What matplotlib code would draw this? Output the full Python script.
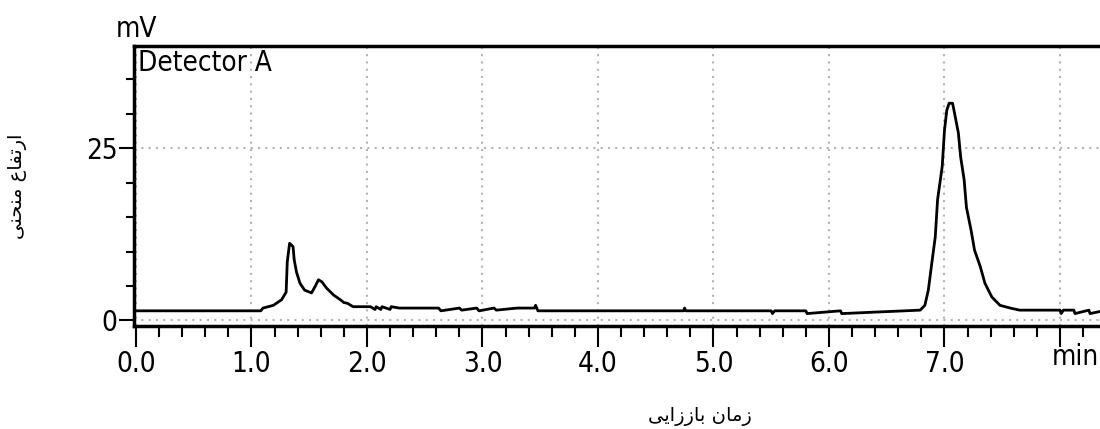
import matplotlib
matplotlib.use("Agg")
import matplotlib.pyplot as plt
from matplotlib import font_manager
from matplotlib.ticker import MultipleLocator

# chromatogram trace (time in min, signal in mV)
time_min = [0.00, 1.08, 1.10, 1.19, 1.26, 1.30, 1.31, 1.33, 1.36, 1.37, 1.39, 1.42,
            1.46, 1.52, 1.55, 1.58, 1.61, 1.65, 1.71, 1.77, 1.80, 1.83, 1.88, 2.03,
            2.07, 2.08, 2.12, 2.13, 2.20, 2.21, 2.28, 2.62, 2.64, 2.80, 2.82, 2.95,
            2.97, 3.10, 3.12, 3.30, 3.45, 3.46, 3.48, 4.74, 4.75, 4.76, 5.50, 5.51,
            5.53, 5.80, 5.81, 6.10, 6.11, 6.79, 6.83, 6.86, 6.89, 6.92, 6.94, 6.98,
            7.00, 7.02, 7.04, 7.07, 7.09, 7.12, 7.14, 7.17, 7.19, 7.23, 7.26, 7.31,
            7.35, 7.41, 7.48, 7.57, 7.65, 8.00, 8.01, 8.03, 8.12, 8.13, 8.25, 8.26,
            8.40]
signal_mv = [1.4, 1.4, 1.8, 2.2, 3.0, 4.1, 8.5, 11.2, 10.7, 8.8, 7.0, 5.4,
             4.4, 4.0, 4.9, 5.9, 5.6, 4.7, 3.7, 3.0, 2.6, 2.5, 2.0, 2.0,
             1.6, 2.0, 1.6, 2.0, 1.6, 2.0, 1.8, 1.8, 1.4, 1.8, 1.5, 1.8,
             1.4, 1.8, 1.5, 1.8, 1.8, 2.2, 1.4, 1.4, 1.8, 1.4, 1.4, 1.0,
             1.4, 1.4, 1.0, 1.4, 1.0, 1.5, 2.2, 4.4, 8.3, 12.1, 17.5, 22.3,
             27.6, 30.5, 31.5, 31.5, 29.8, 27.2, 23.7, 20.4, 16.4, 13.1, 10.2, 7.8,
             5.4, 3.4, 2.2, 1.8, 1.5, 1.5, 1.0, 1.5, 1.5, 1.0, 1.5, 1.0,
             1.5]

x_major = [0, 1, 2, 3, 4, 5, 6, 7, 8]
x_labels = ["0.0", "1.0", "2.0", "3.0", "4.0", "5.0", "6.0", "7.0", ""]
y_major = [0, 25]

title_y = "ارتفاع منحنی"
title_x = "زمان باززایی"

# minimal Persian shaping (matplotlib has no bidi / joining support)
FORMS = {
    "ا": ("\uFE8D", "\uFE8E", None, None),
    "ر": ("\uFEAD", "\uFEAE", None, None),
    "ز": ("\uFEAF", "\uFEB0", None, None),
    "ت": ("\uFE95", "\uFE96", "\uFE97", "\uFE98"),
    "ف": ("\uFED1", "\uFED2", "\uFED3", "\uFED4"),
    "ع": ("\uFEC9", "\uFECA", "\uFECB", "\uFECC"),
    "م": ("\uFEE1", "\uFEE2", "\uFEE3", "\uFEE4"),
    "ن": ("\uFEE5", "\uFEE6", "\uFEE7", "\uFEE8"),
    "ح": ("\uFEA1", "\uFEA2", "\uFEA3", "\uFEA4"),
    "ب": ("\uFE8F", "\uFE90", "\uFE91", "\uFE92"),
    "ی": ("\uFBFC", "\uFBFD", "\uFBFE", "\uFBFF"),
}


def joins_next(ch):
    return ch in FORMS and FORMS[ch][2] is not None


def shape(text):
    out = []
    for i, ch in enumerate(text):
        if ch not in FORMS:
            out.append(ch)
            continue
        prev = text[i - 1] if i > 0 else ""
        nxt = text[i + 1] if i + 1 < len(text) else ""
        from_prev = joins_next(prev)
        to_next = joins_next(ch) and nxt in FORMS
        iso, fin, ini, med = FORMS[ch]
        if from_prev and to_next:
            out.append(med)
        elif from_prev:
            out.append(fin)
        elif to_next:
            out.append(ini)
        else:
            out.append(iso)
    return "".join(out)[::-1]


# look for a narrow sans font (the reference uses a condensed Arial-like face)
def find_narrow():
    for f in font_manager.fontManager.ttflist:
        name = f.name.lower()
        fname = f.fname.lower()
        if f.style != "normal" or f.weight not in (400, "normal", "regular"):
            continue
        if "mono" in name or "serif" in name and "sans" not in name:
            continue
        if "narrow" in name or "condensed" in name or "narrow" in fname or \
                ("condensed" in fname and "semi" not in fname and "extra" not in fname):
            return font_manager.FontProperties(fname=f.fname)
    return None


narrow_fp = find_narrow()
if narrow_fp is not None:
    tick_font = dict(fontproperties=narrow_fp)
    big = 20
else:
    tick_font = dict(family=["Liberation Sans", "DejaVu Sans"])
    big = 16

fig = plt.figure(figsize=(11, 4.29), dpi=100)
ax = fig.add_axes([134 / 1100, 1 - 326 / 429, 1 - 134 / 1100, (326 - 46) / 429])

ax.plot(time_min, signal_mv, color="black", linewidth=2.0)

ax.set_xlim(-0.017, (1100 - 136) / 115.5)
ax.set_ylim(-0.8, 39.8)

ax.set_xticks(x_major)
ax.set_xticklabels(x_labels)
ax.xaxis.set_minor_locator(MultipleLocator(0.2))
ax.set_yticks(y_major)
ax.set_yticklabels([str(v) for v in y_major])
ax.yaxis.set_minor_locator(MultipleLocator(5))

ax.tick_params(axis="x", which="major", length=15, width=1.5, pad=2)
ax.tick_params(axis="x", which="minor", length=8, width=1.5)
ax.tick_params(axis="y", which="major", length=11, width=1.5, pad=1)
ax.tick_params(axis="y", which="minor", length=6, width=1.5)
for lab in ax.get_xticklabels() + ax.get_yticklabels():
    if narrow_fp is not None:
        lab.set_fontproperties(narrow_fp)
    else:
        lab.set_fontfamily(tick_font["family"])
    lab.set_fontsize(big)

for side in ["left", "bottom", "top"]:
    ax.spines[side].set_linewidth(2.5)
ax.spines["right"].set_visible(False)

ax.grid(True, which="major", color="#b4b4b4", linestyle=(0, (1, 2.5)), linewidth=1.5)
ax.set_axisbelow(True)

# unit label at the right end of the time axis
fig.text(1099 / 1100, 1 - 343 / 429, "min", ha="right", va="top", fontsize=big, **tick_font)
ax.text(0.02, 39.4, "Detector A", ha="left", va="top", fontsize=big, **tick_font)
fig.text(137 / 1100, 1 - 37 / 429, "mV", ha="center", va="baseline", fontsize=big, **tick_font)

fig.text(18 / 1100, 1 - 186 / 429, shape(title_y), rotation=90, ha="center", va="center",
         fontsize=14, family="DejaVu Sans")
fig.text(700 / 1100, 1 - 416 / 429, shape(title_x), ha="center", va="center",
         fontsize=14, family="DejaVu Sans")

fig.savefig("out.png", dpi=100)
